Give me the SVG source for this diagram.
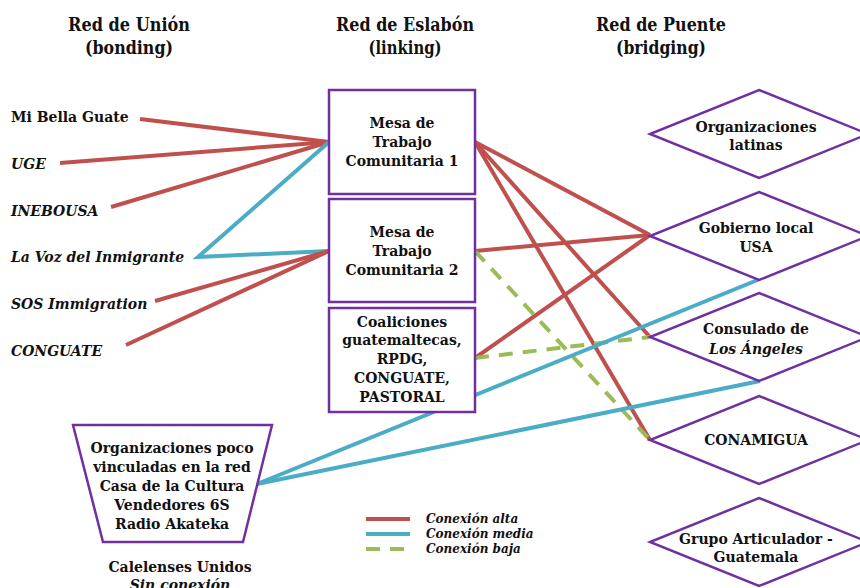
<svg xmlns="http://www.w3.org/2000/svg" width="860" height="588" viewBox="0 0 860 588">
<style>
text{font-family:"DejaVu Serif","Liberation Serif",serif;font-weight:bold;fill:#111;}
.t{font-size:19px;text-anchor:middle;}
.l{font-size:14px;}
.i{font-style:italic;}
.c{font-size:14px;text-anchor:middle;}
.lg{font-size:12px;font-style:italic;}
.box{fill:#fff;stroke:#7030A0;stroke-width:2.5;}
.hi{stroke:#C0504D;stroke-width:4;fill:none;}
.me{stroke:#4BACC6;stroke-width:4;fill:none;}
.lo{stroke:#9BBB59;stroke-width:4;fill:none;stroke-dasharray:14 10;}
</style>
<rect width="860" height="588" fill="#fff"/>
<g id="titles">
<text class="t" x="129" y="31" textLength="122" lengthAdjust="spacingAndGlyphs">Red de Unión</text>
<text class="t" x="129" y="54" textLength="88" lengthAdjust="spacingAndGlyphs">(bonding)</text>
<text class="t" x="405" y="31" textLength="138" lengthAdjust="spacingAndGlyphs">Red de Eslabón</text>
<text class="t" x="405" y="54" textLength="73" lengthAdjust="spacingAndGlyphs">(linking)</text>
<text class="t" x="661" y="31" textLength="130" lengthAdjust="spacingAndGlyphs">Red de Puente</text>
<text class="t" x="661" y="54" textLength="90" lengthAdjust="spacingAndGlyphs">(bridging)</text>
</g>
<g id="connectors">
<line class="hi" x1="140" y1="119" x2="329" y2="142"/>
<line class="hi" x1="60" y1="163" x2="329" y2="142"/>
<line class="hi" x1="111" y1="207" x2="329" y2="142"/>
<polyline class="me" points="329,142 198,257 329,251"/>
<line class="hi" x1="155" y1="301" x2="329" y2="251"/>
<line class="hi" x1="126" y1="345" x2="329" y2="251"/>
<line class="hi" x1="475" y1="142" x2="650" y2="235"/>
<line class="hi" x1="475" y1="142" x2="650" y2="337"/>
<line class="hi" x1="475" y1="142" x2="650" y2="440"/>
<line class="hi" x1="475" y1="251" x2="650" y2="235"/>
<line class="hi" x1="475" y1="358" x2="650" y2="235"/>
<line class="lo" x1="475" y1="251" x2="650" y2="440"/>
<line class="lo" x1="475" y1="358" x2="650" y2="337"/>
<line class="me" x1="257" y1="484" x2="760" y2="279"/>
<line class="me" x1="257" y1="484" x2="760" y2="381"/>
</g>
<g id="bonding">
<text class="l" x="11" y="122">Mi Bella Guate</text>
<text class="l i" x="11" y="169">UGE</text>
<text class="l i" x="11" y="216">INEBOUSA</text>
<text class="l i" x="11" y="262">La Voz del Inmigrante</text>
<text class="l i" x="11" y="309">SOS Immigration</text>
<text class="l i" x="11" y="356">CONGUATE</text>
</g>
<g id="mesa1">
<rect class="box" x="329" y="90" width="146" height="104"/>
<text class="c" x="402" y="128">Mesa de</text>
<text class="c" x="402" y="147">Trabajo</text>
<text class="c" x="402" y="166">Comunitaria 1</text>
</g>
<g id="mesa2">
<rect class="box" x="329" y="199" width="146" height="103"/>
<text class="c" x="402" y="237">Mesa de</text>
<text class="c" x="402" y="256">Trabajo</text>
<text class="c" x="402" y="275">Comunitaria 2</text>
</g>
<g id="coaliciones">
<rect class="box" x="329" y="308" width="146" height="104"/>
<text class="c" x="402" y="327">Coaliciones</text>
<text class="c" x="402" y="345">guatemaltecas,</text>
<text class="c" x="402" y="364">RPDG,</text>
<text class="c" x="402" y="383">CONGUATE,</text>
<text class="c" x="402" y="402">PASTORAL</text>
</g>
<g id="org-latinas">
<polygon class="box" points="759,90 868,134 759,178 650,134"/>
<text class="c" x="756" y="132">Organizaciones</text>
<text class="c" x="756" y="150">latinas</text>
</g>
<g id="gobierno">
<polygon class="box" points="759,192 868,236 759,280 650,236"/>
<text class="c" x="756" y="233">Gobierno local</text>
<text class="c" x="756" y="252">USA</text>
</g>
<g id="consulado">
<polygon class="box" points="759,293 868,337 759,381 650,337"/>
<text class="c" x="756" y="334">Consulado de</text>
<text class="c i" x="756" y="354">Los Ángeles</text>
</g>
<g id="conamigua">
<polygon class="box" points="759,396 868,440 759,484 650,440"/>
<text class="c" x="756" y="445">CONAMIGUA</text>
</g>
<g id="grupo">
<polygon class="box" points="759,498 868,542 759,586 650,542"/>
<text class="c" x="756" y="544">Grupo Articulador -</text>
<text class="c" x="756" y="562">Guatemala</text>
</g>
<g id="poco-vinculadas">
<polygon class="box" points="73,425 272,425 243,542 103,542"/>
<text class="c" x="172" y="453">Organizaciones poco</text>
<text class="c" x="172" y="472">vinculadas en la red</text>
<text class="c" x="172" y="491">Casa de la Cultura</text>
<text class="c" x="172" y="510">Vendedores 6S</text>
<text class="c" x="172" y="529">Radio Akateka</text>
</g>
<g id="sin-conexion">
<text class="c" x="180" y="572">Calelenses Unidos</text>
<text class="c i" x="180" y="590">Sin conexión</text>
</g>
<g id="legend">
<line class="hi" x1="366" y1="519" x2="410" y2="519"/>
<line class="me" x1="366" y1="534" x2="410" y2="534"/>
<line class="lo" x1="366" y1="549" x2="410" y2="549" stroke-dasharray="16 13"/>
<text class="lg" x="426" y="523">Conexión alta</text>
<text class="lg" x="426" y="538">Conexión media</text>
<text class="lg" x="426" y="553">Conexión baja</text>
</g>
</svg>
